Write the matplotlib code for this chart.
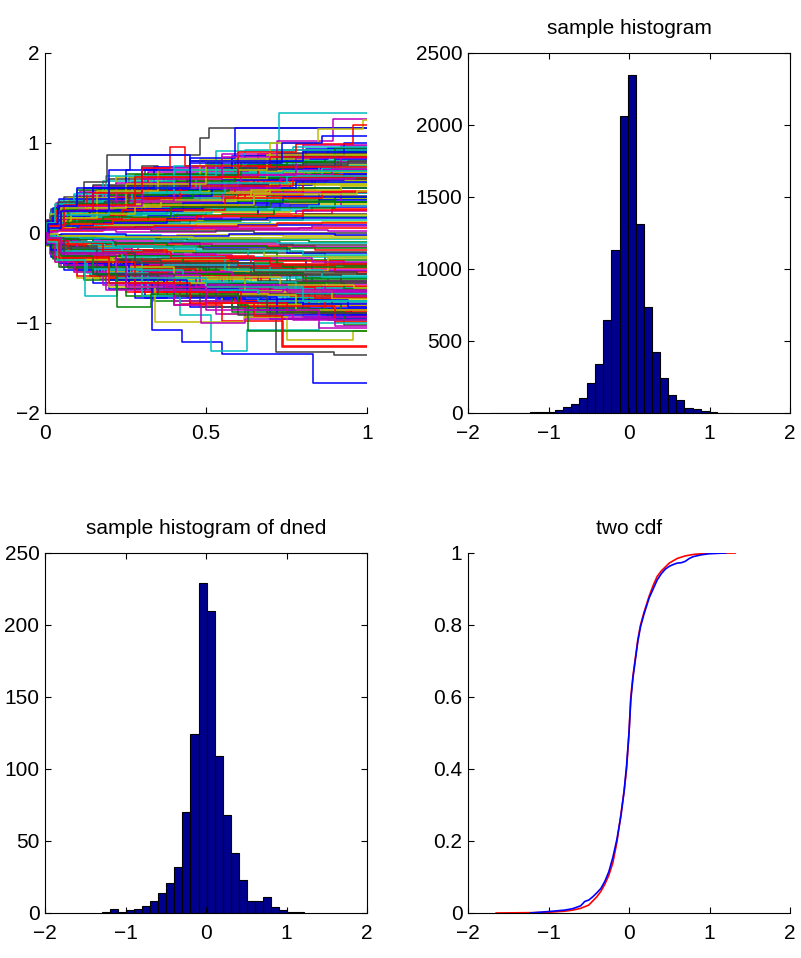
import matplotlib
matplotlib.use("Agg")
import matplotlib.pyplot as plt
import numpy as np

plt.rcParams['font.family'] = ['Liberation Sans', 'DejaVu Sans']
plt.rcParams['font.size'] = 15

# MATLAB default line colours (b g r c m y k)
mcolors = [(0, 0, 1), (0, 0.5, 0), (1, 0, 0), (0, 0.75, 0.75),
           (0.75, 0, 0.75), (0.75, 0.75, 0), (0.25, 0.25, 0.25)]

# ---- panel 1 : sample paths, knots (t, level) of each step path ----
paths = [
    [(.01, .04), (.05, .16), (.17, .35), (.44, .6), (.81, .93)],
    [(.006, -.05), (.03, -.18), (.11, -.33), (.38, -.55), (.74, -.95)],
    [(.012, .08), (.04, .22), (.14, .41), (.29, .55), (.66, .88)],
    [(.008, -.07), (.05, -.24), (.2, -.42), (.47, -.63), (.86, -.91)],
    [(.015, .1), (.07, .27), (.23, .5), (.52, .71), (.9, .86)],
    [(.01, -.09), (.04, -.2), (.13, -.37), (.33, -.58), (.69, -.87)],
    [(.005, .03), (.03, .14), (.1, .3), (.36, .52), (.73, .83)],
    [(.02, -.12), (.06, -.29), (.25, -.47), (.56, -.66), (.82, -.84)],
    [(.007, .06), (.035, .19), (.19, .39), (.41, .62), (.77, .8)],
    [(.011, -.04), (.045, -.15), (.16, -.33), (.43, -.5), (.7, -.81)],
    [(.009, .09), (.06, .24), (.12, .45), (.34, .57), (.63, .77)],
    [(.013, -.08), (.03, -.21), (.09, -.4), (.31, -.61), (.6, -.78)],
    [(.006, .05), (.025, .12), (.21, .28), (.5, .49), (.84, .74)],
    [(.017, -.11), (.055, -.26), (.18, -.44), (.45, -.59), (.79, -.75)],
    [(.01, .07), (.04, .2), (.15, .36), (.39, .51), (.68, .71)],
    [(.008, -.06), (.03, -.17), (.14, -.3), (.37, -.47), (.75, -.72)],
    [(.014, .11), (.05, .25), (.26, .43), (.58, .55), (.87, .68)],
    [(.005, -.03), (.02, -.13), (.1, -.27), (.28, -.49), (.64, -.69)],
    [(.012, .04), (.07, .17), (.22, .33), (.48, .46), (.8, .65)],
    [(.009, -.1), (.04, -.22), (.17, -.35), (.42, -.52), (.72, -.66)],
    [(.007, .06), (.03, .15), (.11, .26), (.32, .42), (.61, .62)],
    [(.016, -.07), (.06, -.19), (.24, -.31), (.51, -.45), (.83, -.63)],
    [(.01, .08), (.045, .21), (.13, .34), (.46, .48), (.76, .59)],
    [(.006, -.05), (.025, -.14), (.12, -.25), (.35, -.42), (.67, -.6)],
    [(.011, .03), (.035, .1), (.19, .22), (.4, .36), (.71, .56)],
    [(.013, -.09), (.05, -.23), (.15, -.36), (.53, -.48), (.88, -.57)],
    [(.008, .05), (.06, .18), (.2, .31), (.44, .4), (.79, .53)],
    [(.01, -.04), (.04, -.12), (.18, -.24), (.39, -.37), (.7, -.54)],
    [(.005, .02), (.02, .09), (.09, .2), (.3, .29), (.65, .5)],
    [(.015, -.08), (.07, -.2), (.21, -.29), (.49, -.4), (.78, -.51)],
    [(.009, .07), (.03, .16), (.14, .27), (.37, .38), (.62, .47)],
    [(.012, -.06), (.045, -.16), (.16, -.22), (.43, -.34), (.74, -.48)],
    [(.007, .04), (.05, .13), (.23, .24), (.54, .33), (.85, .44)],
    [(.014, -.1), (.035, -.18), (.13, -.28), (.33, -.32), (.6, -.45)],
    [(.006, .06), (.025, .12), (.1, .19), (.27, .28), (.69, .41)],
    [(.01, -.05), (.055, -.11), (.19, -.2), (.47, -.3), (.81, -.42)],
    [(.011, .03), (.04, .1), (.17, .21), (.38, .26), (.73, .38)],
    [(.008, -.07), (.03, -.15), (.12, -.23), (.36, -.27), (.64, -.39)],
    [(.013, .08), (.06, .14), (.22, .2), (.5, .25), (.83, .35)],
    [(.005, -.03), (.02, -.09), (.08, -.16), (.29, -.24), (.58, -.36)],
    [(.01, .05), (.045, .11), (.15, .16), (.41, .23), (.76, .32)],
    [(.016, -.09), (.05, -.14), (.2, -.19), (.46, -.22), (.87, -.33)],
    [(.007, .02), (.03, .07), (.13, .13), (.32, .19), (.66, .29)],
    [(.012, -.04), (.04, -.1), (.17, -.14), (.4, -.21), (.72, -.3)],
    [(.009, .06), (.06, .12), (.24, .17), (.55, .21), (.89, .27)],
    [(.006, -.05), (.025, -.08), (.11, -.13), (.34, -.18), (.63, -.27)],
    [(.014, .04), (.05, .09), (.18, .12), (.42, .18), (.78, .24)],
    [(.01, -.06), (.035, -.12), (.14, -.15), (.37, -.2), (.68, -.25)],
    [(.008, .03), (.04, .06), (.16, .1), (.45, .15), (.8, .21)],
    [(.011, -.02), (.045, -.07), (.21, -.11), (.48, -.16), (.75, -.22)],
    [(.005, .05), (.02, .1), (.09, .14), (.31, .13), (.61, .18)],
    [(.015, -.07), (.06, -.1), (.19, -.12), (.52, -.14), (.84, -.19)],
    [(.009, .02), (.03, .05), (.12, .08), (.35, .11), (.7, .15)],
    [(.012, -.03), (.04, -.06), (.15, -.09), (.43, -.12), (.77, -.16)],
    [(.007, .04), (.05, .07), (.2, .09), (.47, .1), (.86, .12)],
    [(.01, -.05), (.03, -.08), (.13, -.06), (.39, -.1), (.73, -.13)],
    [(.006, .01), (.025, .04), (.1, .06), (.28, .07), (.6, .09)],
    [(.013, -.02), (.055, -.04), (.17, -.07), (.44, -.08), (.82, -.1)],
    [(.008, .03), (.04, .02), (.18, .05), (.5, .04), (.79, .06)],
    [(.011, -.01), (.035, -.03), (.14, -.02), (.36, -.05), (.67, -.07)],
    [(.009, .02), (.045, .03), (.22, .01), (.53, .03), (.88, .02)],
    [(.014, -.04), (.06, -.02), (.16, -.04), (.41, -.02), (.74, -.03)],
    [(.005, .01), (.02, .03), (.11, .04), (.33, .02), (.65, .0)],
    [(.01, -.02), (.05, -.01), (.25, -.03), (.57, -.01), (.9, -.02)],
    [(.012, .06), (.04, .1), (.16, .13), (.4, .2), (.71, .28), (.9, .34)],
    [(.007, -.06), (.03, -.13), (.13, -.19), (.38, -.26), (.65, -.31), (.93, -.37)],
    [(.01, .09), (.05, .18), (.19, .29), (.42, .37), (.75, .45)],
    [(.015, -.1), (.06, -.21), (.22, -.34), (.5, -.43), (.8, -.53)],
    [(.006, .07), (.035, .17), (.12, .32), (.36, .47), (.69, .58)],
    [(.011, -.08), (.04, -.19), (.17, -.32), (.45, -.46), (.76, -.62)],
    [(.009, .1), (.045, .23), (.2, .37), (.48, .53), (.83, .66)],
    [(.013, -.11), (.055, -.27), (.21, -.41), (.54, -.56), (.87, -.7)],
    [(.008, .05), (.03, .19), (.14, .38), (.43, .56), (.74, .74)],
    [(.01, -.07), (.04, -.22), (.18, -.39), (.46, -.57), (.78, -.77)],
    [(.005, .04), (.025, .13), (.11, .29), (.35, .48), (.68, .79)],
    [(.016, -.09), (.06, -.24), (.23, -.43), (.52, -.62), (.85, -.8)],
    [(.012, .08), (.05, .22), (.17, .42), (.39, .63), (.72, .84)],
    [(.007, -.05), (.035, -.2), (.15, -.37), (.4, -.64), (.7, -.83)],
    [(.01, .11), (.04, .26), (.24, .47), (.57, .67), (.91, .9)],
    [(.014, -.12), (.05, -.28), (.19, -.46), (.49, -.68), (.82, -.88)],
    [(.009, .06), (.03, .2), (.13, .4), (.33, .64), (.64, .81)],
    [(.011, -.08), (.045, -.23), (.16, -.45), (.42, -.7), (.75, -.9)],
    [(.006, .09), (.06, .3), (.21, .46), (.51, .69), (.86, .76)],
    [(.013, -.06), (.04, -.26), (.2, -.5), (.55, -.74), (.89, -.93)],
    [(.008, .12), (.035, .28), (.1, .44), (.3, .61), (.6, .72), (.9, .82)],
    [(.01, -.1), (.05, -.3), (.14, -.48), (.37, -.6), (.67, -.79), (.92, -.86)],
    [(.015, .07), (.07, .24), (.25, .4), (.59, .58), (.88, .63)],
    [(.007, -.09), (.03, -.25), (.12, -.4), (.34, -.53), (.63, -.71), (.91, -.67)],
    [(.012, .1), (.04, .31), (.15, .52), (.47, .66), (.8, .7)],
    [(.009, -.11), (.05, -.31), (.22, -.54), (.58, -.67), (.9, -.76)],
    [(.005, .03), (.02, .11), (.08, .25), (.26, .44), (.56, .54), (.84, .61)],
    [(.011, -.04), (.035, -.16), (.1, -.34), (.32, -.44), (.62, -.58), (.86, -.65)],
    [(.013, .08), (.055, .25), (.2, .35), (.45, .43), (.74, .5)],
    [(.008, -.07), (.04, -.23), (.18, -.37), (.48, -.47), (.81, -.59)],
    [(.01, .05), (.03, .18), (.14, .3), (.38, .39), (.7, .44)],
    [(.014, -.05), (.06, -.17), (.23, -.26), (.51, -.35), (.83, -.41)],
    [(.006, .04), (.025, .15), (.09, .23), (.31, .34), (.59, .39)],
    [(.01, -.06), (.045, -.14), (.16, -.29), (.44, -.38), (.77, -.46)],
    [(.012, .07), (.05, .2), (.19, .27), (.49, .31), (.85, .37)],
    [(.008, -.08), (.03, -.18), (.13, -.26), (.4, -.29), (.72, -.35)],
    [(.01, .05), (.06, .2), (.25, .55), (.33, .3), (.6, .42), (.8, .6)],
    [(.009, -.07), (.05, -.2), (.3, -.6), (.37, -.35), (.7, -.5)],
    [(.012, .1), (.05, .32), (.18, .5), (.23, .35), (.55, .45), (.92, .3)],
    [(.007, -.08), (.04, -.28), (.2, -.52), (.27, -.3), (.57, -.42), (.88, -.28)],
    [(.015, .12), (.07, .36), (.3, .75), (.35, .55), (.65, .6)],
    [(.01, -.1), (.06, -.34), (.28, -.72), (.38, -.6), (.66, -.85)],
    [(.011, .08), (.05, .27), (.22, .5), (.28, .48), (.5, .78), (.55, .62)],
    [(.008, -.06), (.03, -.24), (.15, -.5), (.42, -.79), (.5, -.62), (.76, -.7)],
    [(.004, .08), (.02, .25), (.08, .38), (.3, .52), (.6, .68), (.85, .74)],
    [(.004, -.07), (.02, -.22), (.07, -.36), (.26, -.5), (.55, -.62), (.9, -.7)],
    [(.006, .12), (.03, .3), (.12, .36), (.4, .44), (.7, .55)],
    [(.005, -.1), (.025, -.28), (.1, -.42), (.35, -.46), (.66, -.53)],
    [(.003, .05), (.015, .2), (.06, .33), (.2, .41), (.52, .5), (.78, .57)],
    [(.004, -.06), (.018, -.19), (.07, -.3), (.24, -.39), (.5, -.44), (.8, -.5)],
    [(.007, .1), (.04, .27), (.16, .48), (.44, .59), (.73, .64)],
    [(.006, -.11), (.03, -.3), (.14, -.46), (.41, -.55), (.71, -.61)],
    [(.005, .15), (.035, .33), (.11, .47), (.32, .68), (.63, .75), (.92, .97)],
    [(.004, -.14), (.03, -.32), (.1, -.5), (.3, -.69), (.6, -.8), (.9, -.98)],
    [(.008, .09), (.05, .21), (.09, .36), (.27, .57), (.5, .72), (.8, .78)],
    [(.007, -.08), (.045, -.23), (.09, -.38), (.26, -.58), (.53, -.73), (.8, -.79)],
    [(.003, .04), (.012, .13), (.05, .25), (.17, .39), (.46, .6), (.84, .69)],
    [(.003, -.04), (.012, -.12), (.05, -.27), (.18, -.4), (.47, -.6), (.84, -.72)],
    [(.006, .07), (.02, .18), (.1, .3), (.22, .45), (.56, .63), (.86, .72)],
    [(.006, -.06), (.02, -.17), (.1, -.29), (.23, -.43), (.58, -.57), (.87, -.64)],
    [(.01, .13), (.06, .29), (.16, .44), (.33, .6), (.69, .68)],
    [(.01, -.12), (.06, -.3), (.16, -.47), (.34, -.57), (.7, -.68)],
    [(.004, .06), (.025, .2), (.08, .34), (.24, .49), (.55, .59), (.93, .66)],
    [(.004, -.05), (.025, -.2), (.08, -.32), (.25, -.45), (.57, -.55), (.93, -.62)],
    [(.009, .11), (.04, .24), (.13, .39), (.42, .52), (.77, .62)],
    [(.009, -.09), (.04, -.24), (.13, -.41), (.43, -.54), (.78, -.67)],
    [(.005, .08), (.03, .23), (.09, .41), (.28, .54), (.61, .65), (.89, .71)],
    [(.005, -.09), (.03, -.26), (.09, -.43), (.29, -.51), (.62, -.64), (.89, -.73)],
    [(.007, .14), (.045, .31), (.17, .49), (.37, .66), (.66, .76), (.94, .8)],
    [(.007, -.13), (.045, -.33), (.17, -.51), (.37, -.65), (.66, -.74), (.94, -.82)],
    [(.012, .05), (.04, .14), (.12, .23), (.3, .32), (.6, .36), (.9, .4)],
    [(.012, -.05), (.04, -.13), (.12, -.22), (.3, -.31), (.6, -.37), (.9, -.43)],
    [(.008, .03), (.03, .08), (.1, .16), (.26, .22), (.52, .27), (.82, .3)],
    [(.008, -.03), (.03, -.09), (.1, -.17), (.27, -.23), (.53, -.28), (.83, -.32)],
    [(.006, .02), (.02, .06), (.08, .1), (.21, .14), (.49, .19), (.77, .2)],
    [(.006, -.02), (.02, -.05), (.08, -.1), (.22, -.15), (.49, -.18), (.76, -.21)],
    [(.01, .04), (.05, .08), (.15, .11), (.38, .16), (.69, .17)],
    [(.01, -.04), (.05, -.07), (.15, -.11), (.38, -.14), (.69, -.17)],
    [(.005, .02), (.03, .05), (.11, .07), (.34, .08), (.72, .11)],
    [(.005, -.02), (.03, -.04), (.11, -.05), (.34, -.09), (.72, -.11)],
    [(.009, .01), (.04, .03), (.19, .05), (.46, .06), (.83, .08)],
    [(.009, -.01), (.04, -.03), (.19, -.04), (.46, -.06), (.83, -.05)],
    [(.004, .11), (.02, .27), (.06, .4), (.15, .53), (.31, .7), (.62, .86), (.95, .92)],
    [(.004, -.1), (.02, -.27), (.06, -.41), (.15, -.55), (.31, -.72), (.62, -.86), (.95, -.9)],
    [(.011, .09), (.05, .26), (.2, .42), (.38, .58), (.59, .79), (.87, .87)],
    [(.011, -.09), (.05, -.27), (.2, -.44), (.38, -.61), (.59, -.76), (.87, -.85)],
    [(.006, .07), (.03, .22), (.13, .35), (.27, .5), (.47, .67), (.74, .69)],
    [(.006, -.08), (.03, -.21), (.13, -.36), (.27, -.48), (.47, -.65), (.74, -.63)],
    [(.008, .1), (.035, .26), (.09, .29), (.36, .37), (.64, .48), (.92, .52)],
    [(.008, -.1), (.035, -.25), (.09, -.3), (.36, -.38), (.64, -.47), (.92, -.55)],
    [(.003, .03), (.01, .1), (.04, .19), (.14, .25), (.43, .33), (.74, .4)],
    [(.003, -.03), (.01, -.1), (.04, -.18), (.14, -.26), (.43, -.33), (.74, -.38)],
    [(.012, .07), (.06, .16), (.24, .26), (.56, .39), (.86, .46)],
    [(.012, -.07), (.06, -.17), (.24, -.27), (.56, -.41), (.86, -.49)],
    [(.005, .06), (.02, .14), (.07, .27), (.21, .36), (.4, .5), (.73, .6), (.96, .63)],
    [(.005, -.06), (.02, -.15), (.07, -.28), (.21, -.38), (.4, -.49), (.73, -.58), (.96, -.61)],
    [(.009, .12), (.06, .34), (.26, .62), (.6, .74), (.8, .91)],
    [(.009, -.12), (.06, -.35), (.26, -.62), (.6, -.77), (.8, -.93)],
    [(.007, .05), (.04, .12), (.18, .18), (.39, .29), (.7, .34)],
    [(.007, -.05), (.04, -.11), (.18, -.21), (.39, -.28), (.7, -.34)],
    [(.004, .09), (.015, .22), (.05, .37), (.19, .46), (.48, .56), (.75, .63)],
    [(.004, -.09), (.015, -.23), (.05, -.38), (.19, -.47), (.48, -.58), (.75, -.65)],
    [(.01, .06), (.03, .13), (.08, .21), (.28, .31), (.65, .43), (.97, .47)],
    [(.01, -.06), (.03, -.14), (.08, -.22), (.28, -.33), (.65, -.43), (.97, -.46)],
    [(.006, .1), (.025, .28), (.12, .5), (.34, .73), (.58, .82), (.88, .95)],
    [(.006, -.1), (.025, -.29), (.12, -.52), (.34, -.75), (.58, -.84), (.88, -.97)],
    [(.013, .04), (.05, .1), (.21, .15), (.47, .19), (.8, .26)],
    [(.013, -.04), (.05, -.1), (.21, -.16), (.47, -.2), (.8, -.24)],
    [(.008, .1), (.04, .3), (.15, .5), (.3, .72), (.55, .88), (.8, .98)],
    [(.008, -.1), (.04, -.3), (.15, -.5), (.3, -.7), (.55, -.9), (.8, -.96)],
    [(.01, .12), (.05, .33), (.2, .6), (.45, .8), (.7, .92)],
    [(.01, -.12), (.05, -.33), (.2, -.62), (.45, -.82), (.7, -.95)],
    [(.006, .09), (.03, .27), (.1, .48), (.25, .66), (.5, .76), (.75, .85), (.95, .9)],
    [(.006, -.09), (.03, -.27), (.1, -.48), (.25, -.66), (.5, -.78), (.75, -.88), (.95, -.92)],
    [(.012, .11), (.06, .35), (.18, .58), (.4, .74), (.62, .92)],
    [(.012, -.11), (.06, -.35), (.18, -.58), (.4, -.76), (.62, -.93)],
    [(.005, .07), (.02, .21), (.07, .39), (.22, .62), (.48, .82), (.82, .88)],
    [(.005, -.07), (.02, -.21), (.07, -.39), (.22, -.62), (.48, -.82), (.82, -.89)],
    [(.009, .13), (.045, .38), (.25, .7), (.58, .86), (.93, 1.0)],
    [(.009, -.13), (.045, -.38), (.25, -.7), (.58, -.88), (.93, -1.02)],
    [(.007, .08), (.035, .24), (.13, .44), (.32, .62), (.66, .73)],
    [(.007, -.08), (.035, -.24), (.13, -.44), (.32, -.63), (.66, -.75)],
    [(.011, .1), (.05, .3), (.22, .56), (.5, .64), (.78, .83)],
    [(.011, -.1), (.05, -.3), (.22, -.56), (.5, -.69), (.78, -.86)],
    [(.004, .06), (.02, .19), (.06, .31), (.2, .52), (.44, .7), (.72, .89)],
    [(.004, -.06), (.02, -.19), (.06, -.31), (.2, -.52), (.44, -.71), (.72, -.91)],
    [(.013, .09), (.07, .32), (.28, .65), (.61, .79), (.9, .94)],
    [(.013, -.09), (.07, -.32), (.28, -.66), (.61, -.81), (.9, -.99)],
    [(.006, .11), (.03, .32), (.09, .43), (.19, .63), (.53, .91), (.77, .96)],
    [(.006, -.11), (.03, -.32), (.09, -.43), (.19, -.63), (.53, -.9), (.77, -.97)],
    [(.01, .05), (.04, .17), (.16, .47), (.35, .7), (.69, .87)],
    [(.01, -.05), (.04, -.17), (.16, -.47), (.35, -.7), (.69, -.89)],
]

# the paths that stand out at the edges of the fan, with their colours
outlier_paths = [
    [(.01, .1), (.04, .35), (.12, .57), (.194, .87), (.48, 1.06), (.51, 1.17)],
    [(.01, .06), (.05, .25), (.15, .5), (.3, .7), (.45, .83), (.59, 1.17)],
    [(.01, .05), (.04, .2), (.2, .45), (.4, .7), (.6, 1.0), (.728, 1.33)],
    [(.012, .08), (.06, .3), (.3, .6), (.55, .85), (.72, 1.02), (.895, 1.27)],
    [(.01, .07), (.05, .28), (.25, .55), (.5, .8), (.7, 1.0), (.849, 1.16), (.987, 1.26)],
    [(.013, .09), (.06, .31), (.28, .62), (.6, .9), (.78, .99), (.957, 1.2)],
    [(.01, .07), (.05, .25), (.15, .45), (.3, .72), (.389, .955), (.435, .75), (.7, .85)],
    [(.01, .1), (.04, .3), (.1, .5), (.2, .7), (.264, .87), (.45, .8), (.8, .9)],
    [(.01, -.08), (.05, -.25), (.15, -.45), (.25, -.56), (.331, -1.078), (.424, -1.208),
     (.549, -1.348), (.831, -1.663)],
    [(.01, -.06), (.05, -.2), (.15, -.4), (.3, -.7), (.42, -.91), (.514, -1.31), (.626, -1.08),
     (.85, -1.0)],
    [(.01, -.05), (.06, -.22), (.2, -.45), (.4, -.7), (.6, -.91), (.717, -1.32), (.897, -1.35)],
    [(.012, -.07), (.05, -.27), (.2, -.5), (.4, -.8), (.55, -.98), (.738, -1.26)],
    [(.01, -.09), (.05, -.3), (.2, -.6), (.342, -.985), (.618, -.93), (.75, -1.19), (.957, -1.09)],
    [(.011, -.06), (.05, -.24), (.22, -.55), (.4, -.8), (.483, -1.0), (.62, -.96), (.9, -1.03)],
    [(.01, -.1), (.04, -.3), (.124, -.7), (.223, -.5), (.5, -.6), (.8, -.75)],
    [(.01, -.05), (.05, -.25), (.15, -.45), (.223, -.82), (.33, -.68), (.6, -.8), (.63, -1.09)],
    [(.009, -.08), (.045, -.28), (.2, -.55), (.45, -.78), (.65, -.92), (.736, -1.27)],
    [(.012, .06), (.05, .24), (.2, .5), (.45, .78), (.735, 1.0), (.86, 1.08)],
    [(.01, -.06), (.05, -.22), (.25, -.6), (.5, -.85), (.85, -1.05)],
]
outlier_colors = ['k', 'b', 'c', 'm', 'y', 'r', 'r', 'b', 'b', 'c', 'k', 'r', 'y', 'm',
                  'c', 'g', 'r', 'b', 'm']
color_map = {'b': mcolors[0], 'g': mcolors[1], 'r': mcolors[2], 'c': mcolors[3],
             'm': mcolors[4], 'y': mcolors[5], 'k': mcolors[6]}

# ---- panel 2 : histogram of the 10000 sample end values ----
hist1_first_edge = -1.73
hist1_bin_width = 0.1008
hist1_counts = [1, 1, 2, 2, 3, 4, 5, 10, 21, 40, 60, 105, 205, 340, 644, 1133, 2061, 2350,
                1314, 735, 426, 242, 125, 88, 34, 27, 12, 5, 3, 2]

# ---- panel 3 : histogram of 1000 dned samples ----
hist2_first_edge = -1.297
hist2_bin_width = 0.1004
hist2_counts = [1, 3, 1, 2, 3, 5, 8, 14, 21, 32, 70, 124, 229, 210, 109, 68, 42, 23, 8, 8,
                11, 4, 2, 1, 1]

# ---- panel 4 : the two cdfs ----
red_x = [-1.65, -1.2, -1.0, -0.8, -0.7, -0.6, -0.5, -0.4, -0.35, -0.3, -0.25, -0.2, -0.15,
         -0.1, -0.06, -0.03, 0.0, 0.022, 0.05, 0.08, 0.11, 0.143, 0.186, 0.25, 0.3, 0.35,
         0.4, 0.5, 0.6, 0.7, 0.8, 0.9, 1.0, 1.32]
red_cdf = [0, 0.001, 0.002, 0.005, 0.008, 0.013, 0.022, 0.045, 0.06, 0.08, 0.105, 0.14,
           0.197, 0.275, 0.34, 0.40, 0.50, 0.60, 0.66, 0.71, 0.76, 0.80, 0.835, 0.88, 0.91,
           0.935, 0.95, 0.972, 0.985, 0.992, 0.996, 0.998, 0.9993, 1.0]
blue_x = [-1.23, -1.0, -0.8, -0.7, -0.6, -0.55, -0.5, -0.45, -0.4, -0.35, -0.3, -0.25, -0.2,
          -0.15, -0.1, -0.06, -0.03, 0.0, 0.022, 0.05, 0.08, 0.11, 0.143, 0.186, 0.25, 0.3,
          0.35, 0.4, 0.45, 0.5, 0.55, 0.6, 0.65, 0.7, 0.75, 0.8, 0.9, 1.0, 1.2]
blue_cdf = [0, 0.004, 0.008, 0.012, 0.02, 0.032, 0.036, 0.045, 0.056, 0.068, 0.088, 0.115,
            0.155, 0.205, 0.27, 0.34, 0.41, 0.50, 0.59, 0.655, 0.705, 0.755, 0.795, 0.83,
            0.875, 0.90, 0.925, 0.942, 0.955, 0.963, 0.968, 0.972, 0.973, 0.977, 0.985,
            0.99, 0.995, 0.998, 1.0]

cdf_yticks = [0, 0.2, 0.4, 0.6, 0.8, 1]
cdf_yticklabels = ['0', '0.2', '0.4', '0.6', '0.8', '1']
path_xticks = [0, 0.5, 1]
path_xticklabels = ['0', '0.5', '1']

bar_face = (0, 0, 0.5625)


def step_path(ax, knots, color):
    t = [0.0] + [k[0] for k in knots] + [1.0]
    v = [0.0] + [k[1] for k in knots] + [knots[-1][1]]
    ax.plot(t, v, drawstyle='steps-post', color=color, lw=1.1)


def style_axes(ax, box):
    ax.tick_params(direction='in', length=4, width=0.8, top=box, right=box)
    ax.tick_params(axis='y', pad=4)
    ax.tick_params(axis='x', pad=8)
    for s in ['left', 'bottom', 'top', 'right']:
        ax.spines[s].set_linewidth(0.8)
    if not box:
        ax.spines['top'].set_visible(False)
        ax.spines['right'].set_visible(False)


fig = plt.figure(figsize=(8.01, 9.58), dpi=100)
W, H = 801, 958
ax1 = fig.add_axes([45 / W, 1 - 413 / H, 322 / W, 360 / H])
ax2 = fig.add_axes([468 / W, 1 - 413 / H, 322 / W, 360 / H])
ax3 = fig.add_axes([45 / W, 1 - 913 / H, 322 / W, 360 / H])
ax4 = fig.add_axes([468 / W, 1 - 913 / H, 322 / W, 360 / H])

# panel 1
for i, p in enumerate(paths):
    step_path(ax1, p, mcolors[i % 7])
for p, c in zip(outlier_paths, outlier_colors):
    step_path(ax1, p, color_map[c])
ax1.set_xlim(0, 1)
ax1.set_ylim(-2, 2)
ax1.set_xticks(path_xticks)
ax1.set_xticklabels(path_xticklabels)
ax1.set_yticks([-2, -1, 0, 1, 2])
style_axes(ax1, False)

# panel 2
edges1 = hist1_first_edge + hist1_bin_width * np.arange(len(hist1_counts))
ax2.bar(edges1, hist1_counts, width=hist1_bin_width, align='edge',
        color=bar_face, edgecolor='black', linewidth=0.8)
ax2.set_xlim(-2, 2)
ax2.set_ylim(0, 2500)
ax2.set_xticks([-2, -1, 0, 1, 2])
ax2.set_yticks([0, 500, 1000, 1500, 2000, 2500])
ax2.set_title('sample histogram', fontsize=15, pad=14)
style_axes(ax2, True)

# panel 3
edges2 = hist2_first_edge + hist2_bin_width * np.arange(len(hist2_counts))
ax3.bar(edges2, hist2_counts, width=hist2_bin_width, align='edge',
        color=bar_face, edgecolor='black', linewidth=0.8)
ax3.set_xlim(-2, 2)
ax3.set_ylim(0, 250)
ax3.set_xticks([-2, -1, 0, 1, 2])
ax3.set_yticks([0, 50, 100, 150, 200, 250])
ax3.set_title('sample histogram of dned', fontsize=15, pad=14)
style_axes(ax3, True)

# panel 4
ax4.plot(red_x, red_cdf, color='red', lw=1.2)
ax4.plot(blue_x, blue_cdf, color='blue', lw=1.2)
ax4.set_xlim(-2, 2)
ax4.set_ylim(0, 1)
ax4.set_xticks([-2, -1, 0, 1, 2])
ax4.set_yticks(cdf_yticks)
ax4.set_yticklabels(cdf_yticklabels)
ax4.set_title('two cdf', fontsize=15, pad=14)
style_axes(ax4, False)

fig.savefig('out.png', dpi=100)
